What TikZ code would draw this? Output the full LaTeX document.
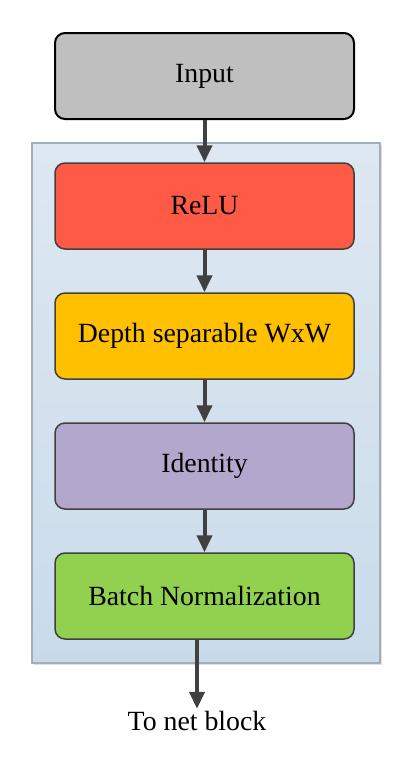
\documentclass[tikz,border=0pt]{standalone}
\usepackage{fontspec}
\setmainfont{Liberation Serif}
\usetikzlibrary{shapes, positioning, arrows.meta, shadows}

\definecolor{inputGrey}{HTML}{BFBFBF}
\definecolor{reluRed}{HTML}{FF5A46}
\definecolor{depthOrange}{HTML}{FFC000}
\definecolor{identPurple}{HTML}{B4A7CD}
\definecolor{normGreen}{HTML}{92D050}
\definecolor{edgeGrey}{HTML}{404040}
\definecolor{panelTop}{HTML}{DEE8F2}
\definecolor{panelBottom}{HTML}{C9DBEA}
\definecolor{panelEdge}{HTML}{A3AEB8}

\begin{document}
\begin{tikzpicture}[x=0.5pt, y=-0.5pt, >={Triangle[length=8.5pt, width=7.5pt]}]
  \useasboundingbox (0,0) rectangle (415,771);

  % Set the node styles
  \tikzset{block/.style={rectangle, rounded corners=5pt, draw=edgeGrey, line width=0.75pt,
      minimum width=149.5pt, minimum height=43pt, font=\fontsize{13.9}{16}\selectfont}}
  \tikzset{flow/.style={->, draw=edgeGrey, line width=2pt}}

  % Draw the background panel
  \fill[black!12] (34,145) rectangle (382,665);
  \draw[panelEdge, line width=0.6pt, top color=panelTop, bottom color=panelBottom]
    (32,143) rectangle (380,663);

  % Draw the input block
  \node[block, draw=black, line width=1pt, fill=inputGrey] (in) at (204.5,76) {Input};

  % Draw the layer blocks
  \foreach \i/\label/\col in {1/ReLU/reluRed, 2/Depth separable WxW/depthOrange,
      3/Identity/identPurple, 4/Batch Normalization/normGreen}{
    \node[block, fill=\col] (b\i) at (204.5,76+130*\i) {\label};
  }

  % Connect the blocks
  \draw[flow] (in) -- (b1);
  \foreach \i [evaluate=\i as \j using {int(\i+1)}] in {1,...,3}{
    \draw[flow] (b\i) -- (b\j);
  }

  % Output
  \node[font=\fontsize{13.9}{16}\selectfont, inner sep=1pt] (out) at (197,721) {To net block};
  \draw[flow] (b4.south -| out.north) -- (out.north);
\end{tikzpicture}
\end{document}
